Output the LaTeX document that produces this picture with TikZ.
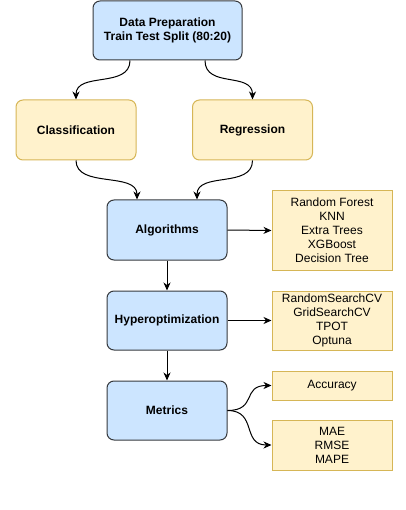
\documentclass[tikz,border=0pt]{standalone}
\usepackage{fontspec}
\setmainfont{Liberation Sans}
\usetikzlibrary{arrows.meta}
\definecolor{bfill}{HTML}{CCE5FF}
\definecolor{bdraw}{HTML}{36393D}
\definecolor{yfill}{HTML}{FFF2CC}
\definecolor{ydraw}{HTML}{D6B656}
\begin{document}
\begin{tikzpicture}[x=1pt,y=-1pt,
  font=\fontsize{12}{14}\selectfont,
  base/.style={align=center,inner sep=0pt,line width=1pt,minimum width=120pt,minimum height=60pt},
  bluebox/.style={base,draw=bdraw,fill=bfill,rounded corners=7pt,font=\fontsize{12}{14}\selectfont\bfseries},
  ybox/.style={base,draw=ydraw,fill=yfill,rounded corners=7pt,font=\fontsize{12}{14}\selectfont\bfseries},
  lbox/.style={base,draw=ydraw,fill=yfill},
  conn/.style={line width=1pt,-{Stealth[length=8pt,width=7pt,inset=2.5pt]}}
]
\useasboundingbox (0,0) rectangle (405,510);

\node[bluebox,minimum width=149pt,minimum height=59pt] (prep) at (167.5,30.5) {Data Preparation\\Train Test Split (80:20)};
\node[ybox] (cls) at (76,130) {Classification};
\node[ybox] (reg) at (252.5,130) {Regression};
\node[bluebox] (alg) at (167,230) {Algorithms};
\node[bluebox,minimum height=59pt] (hyp) at (167,320.5) {Hyperoptimization};
\node[bluebox,minimum height=59pt] (met) at (167,410.5) {Metrics};

\node[lbox,minimum height=79pt] (alglist) at (332,230.5) {Random Forest\\KNN\\Extra Trees\\XGBoost\\Decision Tree};
\node[lbox,minimum height=59pt] (hyplist) at (332,320.5) {RandomSearchCV\\GridSearchCV\\TPOT\\Optuna};
\node[lbox,minimum height=29pt] (acc) at (332,385.5) {Accuracy};
\node[lbox,minimum height=50pt] (err) at (332,445) {MAE\\RMSE\\MAPE};

\draw[conn] ([xshift=-37.5pt]prep.south) .. controls +(0,28) and +(0,-28) .. (cls.north);
\draw[conn] ([xshift=37.5pt]prep.south) .. controls +(0,28) and +(0,-28) .. (reg.north);
\draw[conn] (cls.south) .. controls +(0,28) and +(0,-28) .. ([xshift=-30pt]alg.north);
\draw[conn] (reg.south) .. controls +(0,28) and +(0,-28) .. ([xshift=30pt]alg.north);

\draw[conn] (alg.east) -- (alglist.west);
\draw[conn] (hyp.east) -- (hyplist.west);
\draw[conn] (alg.south) -- (hyp.north);
\draw[conn] (hyp.south) -- (met.north);

\draw[conn] (met.east) .. controls +(30,0) and +(-30,0) .. (acc.west);
\draw[conn] (met.east) .. controls +(30,0) and +(-30,0) .. (err.west);
\end{tikzpicture}
\end{document}
